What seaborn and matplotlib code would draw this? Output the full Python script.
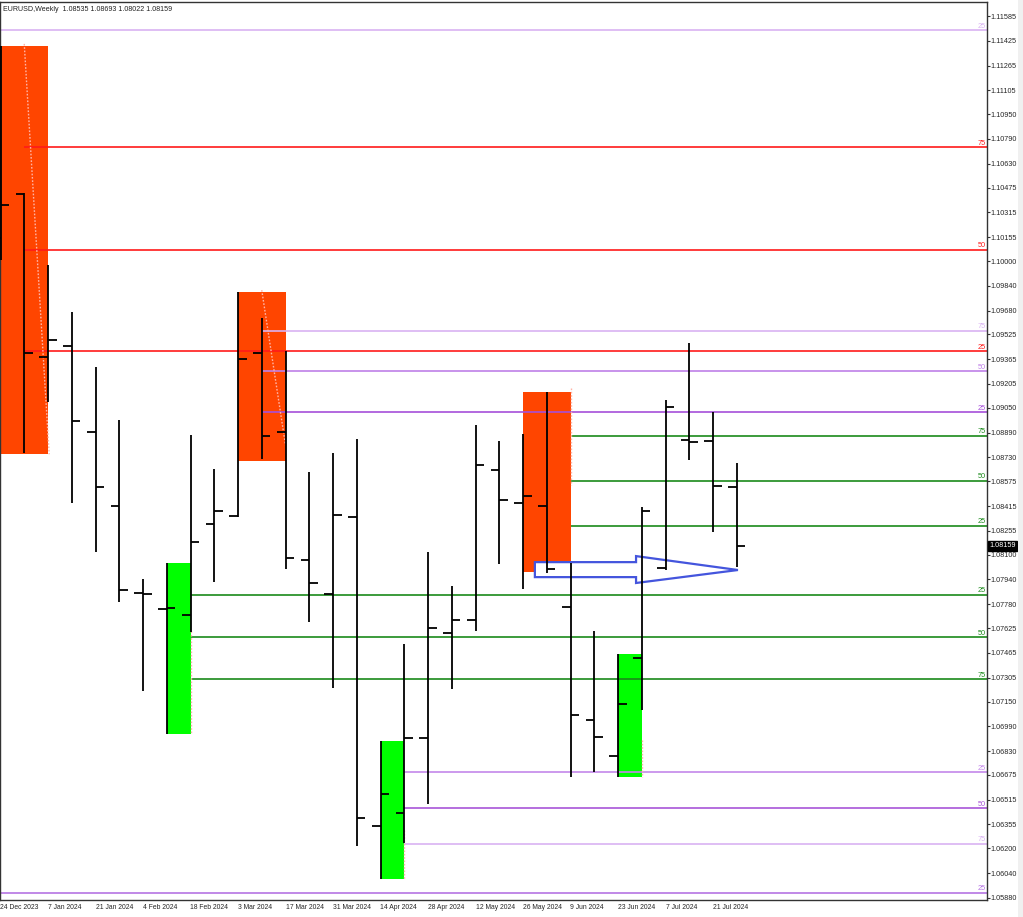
import matplotlib
matplotlib.use("Agg")
import matplotlib.pyplot as plt
from matplotlib.patches import Rectangle, Polygon
import pandas as pd
import seaborn as sns

# weekly EURUSD bars
weeks = ["24 Dec 2023", "31 Dec 2023", "7 Jan 2024", "14 Jan 2024", "21 Jan 2024", "28 Jan 2024",
         "4 Feb 2024", "11 Feb 2024", "18 Feb 2024", "25 Feb 2024", "3 Mar 2024", "10 Mar 2024",
         "17 Mar 2024", "24 Mar 2024", "31 Mar 2024", "7 Apr 2024", "14 Apr 2024", "21 Apr 2024",
         "28 Apr 2024", "5 May 2024", "12 May 2024", "19 May 2024", "26 May 2024", "2 Jun 2024",
         "9 Jun 2024", "16 Jun 2024", "23 Jun 2024", "30 Jun 2024", "7 Jul 2024", "14 Jul 2024",
         "21 Jul 2024", "28 Jul 2024"]
opens = [1.10150, 1.10431, 1.09381, 1.09452, 1.08896, 1.08417, 1.07850, 1.07750, 1.07709, 1.08298,
         1.08352, 1.09407, 1.08894, 1.08063, 1.07843, 1.08345, 1.06345, 1.06428, 1.06914, 1.07595,
         1.07675, 1.08650, 1.08432, 1.08415, 1.07760, 1.07030, 1.06797, 1.07431, 1.08014, 1.08842,
         1.08837, 1.08535]
highs = [1.11391, 1.10440, 1.09974, 1.09668, 1.09312, 1.08971, 1.07942, 1.08047, 1.08874, 1.08652,
         1.09801, 1.09629, 1.09418, 1.08637, 1.08756, 1.08847, 1.06893, 1.07520, 1.08119, 1.07899,
         1.08939, 1.08834, 1.08881, 1.09150, 1.08046, 1.07606, 1.07457, 1.08408, 1.09101, 1.09469,
         1.09025, 1.08693]
lows = [1.10006, 1.08756, 1.09090, 1.08436, 1.08117, 1.07792, 1.07218, 1.06939, 1.07601, 1.07921,
        1.08341, 1.08717, 1.08007, 1.07666, 1.07235, 1.06215, 1.06000, 1.06232, 1.06488, 1.07229,
        1.07606, 1.08037, 1.07876, 1.07983, 1.06661, 1.06694, 1.06661, 1.07095, 1.08001, 1.08712,
        1.08249, 1.08022]
closes = [1.10362, 1.09407, 1.09489, 1.08967, 1.08540, 1.07871, 1.07845, 1.07756, 1.08183, 1.08380,
          1.09364, 1.08866, 1.08080, 1.07916, 1.08356, 1.06396, 1.06551, 1.06915, 1.07627, 1.07679,
          1.08678, 1.08453, 1.08479, 1.08005, 1.07063, 1.06920, 1.07134, 1.08383, 1.09055, 1.08829,
          1.08546, 1.08159]

price_ticks = ["1.11585", "1.11425", "1.11265", "1.11105", "1.10950", "1.10790", "1.10630", "1.10475",
               "1.10315", "1.10155", "1.10000", "1.09840", "1.09680", "1.09525", "1.09365", "1.09205",
               "1.09050", "1.08890", "1.08730", "1.08575", "1.08415", "1.08255", "1.08100", "1.07940",
               "1.07780", "1.07625", "1.07465", "1.07305", "1.07150", "1.06990", "1.06830", "1.06675",
               "1.06515", "1.06355", "1.06200", "1.06040", "1.05880"]

# pattern boxes: first bar, last bar, top, bottom
box_start = [0, 10, 22, 7, 16, 26]
box_end = [2, 12, 24, 8, 17, 27]
box_top = [1.11391, 1.09801, 1.09150, 1.08048, 1.06893, 1.07457]
box_bottom = [1.08751, 1.08708, 1.07988, 1.06939, 1.06000, 1.06661]
box_colors = ["#ff4500", "#ff4500", "#ff4500", "#00ff00", "#00ff00", "#00ff00"]

# dotted guide lines inside boxes (bar, price) -> (bar, price)
guide_x0 = [1.0, 11.0, 24.0, 8.0, 17.0, 27.0]
guide_y0 = [1.11405, 1.09812, 1.09178, 1.07606, 1.06318, 1.06900]
guide_x1 = [2.05, 12.0, 24.0, 8.0, 17.0, 27.0]
guide_y1 = [1.08750, 1.08809, 1.08551, 1.06939, 1.06002, 1.06661]

# retracement levels
lvl_price = [1.11494, 1.10736, 1.10073, 1.09416, 1.09547, 1.09286, 1.09021,
             1.08870, 1.08578, 1.08287, 1.07839, 1.07565, 1.07294,
             1.06692, 1.06459, 1.06228, 1.05911]
lvl_tag = ["25", "75", "50", "25", "75", "50", "25",
           "75", "50", "25", "25", "50", "75",
           "25", "50", "75", "25"]
lvl_start = [-1, 1, 1, 1, 11, 11, 11,
             24, 24, 24, 8, 8, 8,
             17, 17, 17, -1]
lvl_color = ["#d9b3f2", "#ff1a1a", "#ff1a1a", "#ff1a1a", "#d9b3f2", "#bf80e8", "#a64fd9",
             "#1a8a1a", "#1a8a1a", "#1a8a1a", "#1a8a1a", "#1a8a1a", "#1a8a1a",
             "#c488ea", "#a855d8", "#d9b3f2", "#b574e3"]

# blue arrow outline (bar, price)
arrow_x = [22.5, 26.76, 26.76, 31.05, 26.76, 26.76, 22.5]
arrow_y = [1.08052, 1.08052, 1.08091, 1.08001, 1.07917, 1.07955, 1.07955]

title = "EURUSD,Weekly  1.08535 1.08693 1.08022 1.08159"

df = pd.DataFrame({"week": weeks, "open": opens, "high": highs, "low": lows, "close": closes})
df["x"] = range(len(df))

sns.set_theme(style="white")
plt.rcParams["font.family"] = ["Liberation Sans", "DejaVu Sans"]

fig = plt.figure(figsize=(10.23, 9.17), dpi=100)
fig.patch.set_facecolor("white")
ax = fig.add_axes([0.0, 17 / 917, 987 / 1023, 898 / 917])
ax.set_facecolor("white")
fig.patches.append(Rectangle((1018 / 1023, 0), 5 / 1023, 1, transform=fig.transFigure,
                             facecolor="#f0f0f0", edgecolor="none"))

for i in range(len(box_start)):
    ax.add_patch(Rectangle((box_start[i], box_bottom[i]), box_end[i] - box_start[i],
                           box_top[i] - box_bottom[i], facecolor=box_colors[i],
                           edgecolor="none", zorder=1))
    ax.plot([guide_x0[i], guide_x1[i]], [guide_y0[i], guide_y1[i]], color="#ffb3a6",
            lw=1.0, ls=(0, (1.2, 1.2)), zorder=3)

for p, t, s, c in zip(lvl_price, lvl_tag, lvl_start, lvl_color):
    ax.hlines(p, s, 45, color=c, lw=1.2, zorder=2)
    ax.text(0.9985, p + 0.00004, t, transform=ax.get_yaxis_transform(), ha="right", va="bottom",
            fontsize=5.3, color=c, zorder=5)

ax.add_patch(Polygon(list(zip(arrow_x, arrow_y)), closed=True, facecolor="white",
                     edgecolor="#4455dd", lw=1.6, zorder=2.5))

tick = 0.36
ax.vlines(df["x"], df["low"], df["high"], color="black", lw=1.3, zorder=4)
ax.hlines(df["open"], df["x"] - tick, df["x"], color="black", lw=1.3, zorder=4)
ax.hlines(df["close"], df["x"], df["x"] + tick, color="black", lw=1.3, zorder=4)

ax.set_xlim(-0.5 / 23.75, 986.5 / 23.75)
ax.set_ylim(1.05866, 1.11676)

ax.set_xticks(df["x"][::2])
ax.set_xticklabels(df["week"][::2], ha="left", fontsize=4.9)
ax.yaxis.tick_right()
ax.set_yticks([float(v) for v in price_ticks])
ax.set_yticklabels(price_ticks, ha="left", fontsize=5.2)
ax.tick_params(axis="both", direction="out", length=2.2, width=0.8, color="#333333", pad=0.6)
ax.tick_params(axis="x", pad=1.0)
for sp in ax.spines.values():
    sp.set_visible(True)
    sp.set_color("#333333")
    sp.set_linewidth(1.0)

ax.text(1.002, closes[-1], f"{closes[-1]:.5f}", transform=ax.get_yaxis_transform(), ha="left",
        va="center", fontsize=5.2, color="white", zorder=6, clip_on=False,
        bbox=dict(boxstyle="square,pad=0.2", facecolor="black", edgecolor="black"))

ax.text(0.003, 0.996, title, transform=ax.transAxes, ha="left", va="top", fontsize=5.1, color="#222222")

fig.savefig("out.png", dpi=100)
